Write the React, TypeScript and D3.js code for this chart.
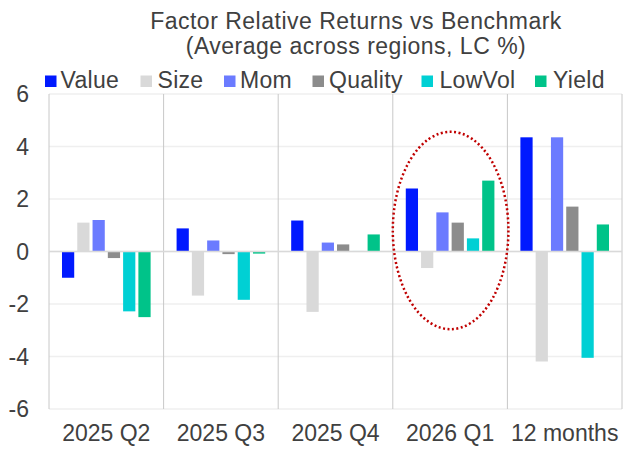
import React from 'react'
import * as d3 from 'd3'

const categories = ['2025 Q2', '2025 Q3', '2025 Q4', '2026 Q1', '12 months']
const series = ['Value', 'Size', 'Mom', 'Quality', 'LowVol', 'Yield']
const colors = ['#0019ff', '#d9d9d9', '#6b7bff', '#8c8c8c', '#00d0d4', '#00c389']

const value = [-1.0, 0.88, 1.18, 2.4, 4.35]
const size = [1.1, -1.68, -2.3, -0.63, -4.19]
const mom = [1.2, 0.42, 0.34, 1.49, 4.35]
const quality = [-0.25, -0.1, 0.27, 1.1, 1.71]
const lowVol = [-2.28, -1.84, 0.02, 0.5, -4.05]
const yieldF = [-2.5, -0.08, 0.65, 2.7, 1.03]
const yTicks = [-6, -4, -2, 0, 2, 4, 6]

const seriesValues = [value, size, mom, quality, lowVol, yieldF]

const W = 635
const H = 449
const margin = { top: 94, right: 13, bottom: 40, left: 49 }
const font = 'Liberation Sans, Arial, sans-serif'
const textColor = '#404040'
const fs = 23

// legend: x of swatch and x of label, as placed in the original
const legendPos = [
    [45, 60.5],
    [140.5, 157.5],
    [224, 240],
    [312.5, 329],
    [421.5, 439.5],
    [535, 553],
]

export default function App() {
    const x = d3
        .scaleBand()
        .domain(categories)
        .range([margin.left, W - margin.right])
        .paddingInner(0.2)
        .paddingOuter(0.1)

    const x1 = d3
        .scaleBand()
        .domain(series)
        .range([0, x.bandwidth()])
        .paddingInner(0.2)
        .paddingOuter(0.1)

    const y = d3
        .scaleLinear()
        .domain([-6, 6])
        .range([H - margin.bottom, margin.top])

    const step = x.step()
    // category separators sit half an inner gap outside each band
    const seps = categories.map((c) => x(c)! - (step - x.bandwidth()) / 2)
    seps.push(W - margin.right)

    // highlight ellipse around 2026 Q1
    const hi = '2026 Q1'
    const ecx = x(hi)! + x.bandwidth() / 2 + 0.5
    const ecy = y(0.8)
    const erx = step / 2 + 0.5
    const ery = y(0) - y(3.76)

    return (
        <svg
            width={W}
            height={H}
            style={{ position: 'absolute', left: 0, top: 0, background: '#fff' }}
            fontFamily={font}
        >
            {/* title */}
            <text x={356} y={28.5} textAnchor="middle" fontSize={fs} letterSpacing={0.5} fill={textColor}>
                Factor Relative Returns vs Benchmark
            </text>
            <text x={356} y={53.5} textAnchor="middle" fontSize={fs} letterSpacing={0.5} fill={textColor}>
                (Average across regions, LC %)
            </text>

            {/* legend */}
            {series.map((s, i) => (
                <g key={s}>
                    <rect x={legendPos[i][0]} y={75.5} width={11.5} height={11.5} fill={colors[i]} />
                    <text x={legendPos[i][1]} y={87.5} fontSize={fs} letterSpacing={0.3} fill={textColor}>
                        {s}
                    </text>
                </g>
            ))}

            {/* horizontal grid */}
            {yTicks.map((t) => (
                <line
                    key={t}
                    x1={margin.left}
                    x2={W - margin.right}
                    y1={y(t)}
                    y2={y(t)}
                    stroke="#efefef"
                    strokeWidth={1.5}
                />
            ))}

            {/* vertical separators */}
            {seps.map((sx, i) => (
                <line key={i} x1={sx} x2={sx} y1={margin.top} y2={H - margin.bottom} stroke="#c8c8c8" strokeWidth={1} />
            ))}

            {/* bars */}
            {categories.map((c, ci) => (
                <g key={c} transform={`translate(${x(c)},0)`}>
                    {series.map((s, si) => {
                        const v = seriesValues[si][ci]
                        return (
                            <rect
                                key={s}
                                x={x1(s)}
                                y={Math.min(y(v), y(0))}
                                width={x1.bandwidth()}
                                height={Math.abs(y(v) - y(0))}
                                fill={colors[si]}
                            />
                        )
                    })}
                </g>
            ))}

            {/* zero line */}
            <line x1={margin.left} x2={W - margin.right} y1={y(0)} y2={y(0)} stroke="#d9d9d9" strokeWidth={1.5} />

            {/* y tick labels */}
            {yTicks.map((t) => (
                <text key={t} x={29} y={y(t) + 8} textAnchor="end" fontSize={fs} fill={textColor}>
                    {t}
                </text>
            ))}

            {/* x labels */}
            {categories.map((c) => (
                <text
                    key={c}
                    x={x(c)! + x.bandwidth() / 2}
                    y={441}
                    textAnchor="middle"
                    fontSize={fs}
                    fill={textColor}
                >
                    {c}
                </text>
            ))}

            <ellipse
                cx={ecx}
                cy={ecy}
                rx={erx}
                ry={ery}
                fill="none"
                stroke="#c00000"
                strokeWidth={2.5}
                strokeDasharray="2 2.5"
            />
        </svg>
    )
}
